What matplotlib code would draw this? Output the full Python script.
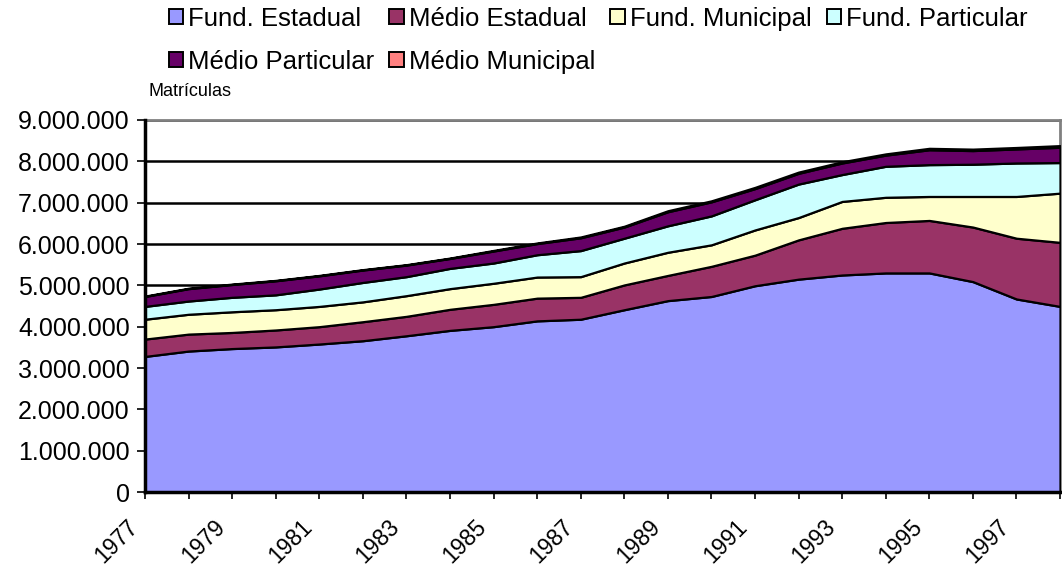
import matplotlib
matplotlib.use('Agg')
import matplotlib.pyplot as plt
import matplotlib.transforms as mtransforms
from matplotlib.patches import Patch
from matplotlib.ticker import FuncFormatter, MultipleLocator
import numpy as np

plt.rcParams['font.family'] = ['Liberation Sans', 'DejaVu Sans']

anos = list(range(1977, 1999))

# matrículas por rede (milhares)
fund_estadual = [3280, 3410, 3470, 3510, 3580, 3660, 3780, 3910, 4000, 4140, 4180,
                 4410, 4630, 4730, 4990, 5150, 5250, 5300, 5300, 5090, 4670, 4490]
medio_estadual = [420, 410, 390, 410, 420, 460, 470, 510, 540, 550, 530,
                  600, 610, 730, 740, 950, 1130, 1220, 1270, 1320, 1470, 1550]
fund_municipal = [480, 480, 500, 490, 490, 480, 500, 500, 510, 510, 500,
                  530, 560, 520, 610, 540, 650, 610, 580, 740, 1010, 1190]
fund_particular = [310, 320, 350, 360, 420, 470, 460, 490, 490, 540, 630,
                   600, 640, 700, 730, 810, 650, 750, 770, 780, 810, 740]
medio_particular = [240, 300, 310, 340, 320, 300, 280, 240, 290, 270, 310,
                    270, 340, 340, 270, 260, 280, 270, 360, 330, 340, 370]
medio_municipal = [10, 10, 10, 10, 10, 10, 10, 10, 15, 15, 20,
                   20, 25, 25, 30, 30, 30, 30, 35, 35, 35, 40]

series = [fund_estadual, medio_estadual, fund_municipal, fund_particular,
          medio_particular, medio_municipal]
nomes = ['Fund. Estadual', 'Médio Estadual', 'Fund. Municipal', 'Fund. Particular',
         'Médio Particular', 'Médio Municipal']
cores = ['#9999FF', '#993366', '#FFFFCC', '#CCFFFF', '#660066', '#FF8080']

fig = plt.figure(figsize=(10.62, 5.71), dpi=100)
ax = fig.add_axes([145 / 1062, 79 / 571, 915 / 1062, 372 / 571])

dados = np.array(series) * 1000
ax.stackplot(anos, dados, colors=cores, edgecolor='black', linewidth=1.6, zorder=3)

ax.set_xlim(1977, 1998)
ax.set_ylim(0, 9000000)
ax.yaxis.set_major_locator(MultipleLocator(1000000))
ax.yaxis.set_major_formatter(FuncFormatter(lambda v, p: f'{int(v):,}'.replace(',', '.')))
ax.grid(axis='y', color='black', linewidth=1.8, zorder=1)
ax.set_axisbelow(True)

ax.set_xticks(anos)
ax.set_xticklabels([str(a) if a % 2 == 1 else '' for a in anos],
                   rotation=45, ha='right', va='top', rotation_mode='anchor')
ax.tick_params(axis='x', length=5, width=1.2, labelsize=16.5, pad=4)
ax.tick_params(axis='y', length=6, width=1.2, labelsize=18, pad=5)

# desloca rótulos do eixo x para baixo/esquerda
desloc = mtransforms.ScaledTranslation(-19 / 100, -11 / 100, fig.dpi_scale_trans)
for lbl in ax.get_xticklabels():
    lbl.set_transform(lbl.get_transform() + desloc)

for lado in ['top', 'right']:
    ax.spines[lado].set_color('#808080')
    ax.spines[lado].set_linewidth(2)
for lado in ['left', 'bottom']:
    ax.spines[lado].set_color('black')
    ax.spines[lado].set_linewidth(2.5)
    ax.spines[lado].set_zorder(5)

fig.text(148 / 1062, 1 - 92 / 571, 'Matrículas', fontsize=13, va='center', ha='left')

# legenda em duas linhas (ordem por coluna)
ordem = [0, 4, 1, 5, 2, 3]
handles = [Patch(facecolor=cores[i], edgecolor='black', linewidth=1.4) for i in ordem]
labels = [nomes[i] for i in ordem]
fig.legend(handles, labels, loc='upper left', bbox_to_anchor=(166 / 1062, 1 - 4 / 571),
           ncol=4, frameon=False, fontsize=18.5, handlelength=0.55, handleheight=0.55,
           handletextpad=0.2, columnspacing=0.6, labelspacing=0.75, borderaxespad=0.0,
           borderpad=0.1)

plt.savefig('out.png', dpi=100)
